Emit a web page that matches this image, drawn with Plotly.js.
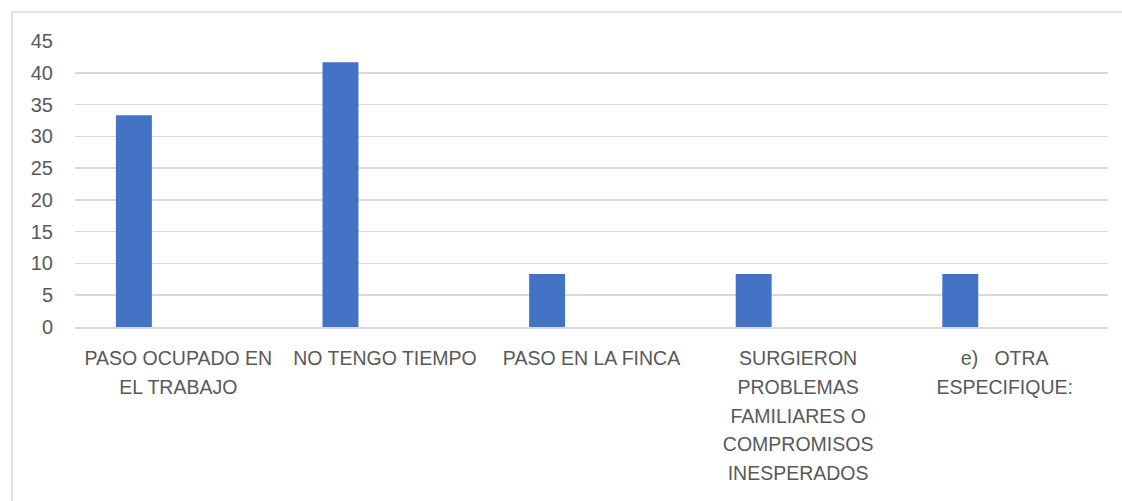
<!DOCTYPE html>
<html>
<head>
<meta charset="utf-8">
<script src="https://cdn.plot.ly/plotly-3.0.1.min.js"></script>
<style>
html,body{margin:0;padding:0;background:#fff;}
#chart{width:1122px;height:501px;}
</style>
</head>
<body>
<div id="chart"></div>
<script>
const categoryLines = [
  ["PASO OCUPADO EN", "EL TRABAJO"],
  ["NO TENGO TIEMPO"],
  ["PASO EN LA FINCA"],
  ["SURGIERON", "PROBLEMAS", "FAMILIARES O", "COMPROMISOS", "INESPERADOS"],
  ["e)\u00a0\u00a0\u00a0OTRA", "ESPECIFIQUE:"]
];
const values = [33.33, 41.67, 8.33, 8.33, 8.33];
const yTicks = [0, 5, 10, 15, 20, 25, 30, 35, 40, 45];

const categories = categoryLines.map(l => l.join(' '));
const tickText = categoryLines.map(l =>
  l.map(s => '<span style="font-size:19.5px">' + s + '</span>').join('<br>'));

const trace = {
  type: 'bar',
  x: categories,
  y: values,
  marker: {color: '#4472C4'},
  width: 0.174,
  offset: -0.302,
  hoverinfo: 'x+y'
};

const layout = {
  width: 1122,
  height: 501,
  margin: {l: 75, r: 14, t: 41, b: 174},
  paper_bgcolor: '#ffffff',
  plot_bgcolor: '#ffffff',
  showlegend: false,
  font: {family: 'Liberation Sans, Arial, sans-serif', color: '#595959'},
  xaxis: {
    type: 'category',
    tickvals: categories,
    ticktext: tickText,
    showgrid: false,
    showline: true,
    linecolor: '#d9d9d9',
    linewidth: 2,
    ticks: '',
    tickangle: 0,
    tickfont: {size: 22, color: '#595959'},
    ticklabelstandoff: 10,
    zeroline: false
  },
  yaxis: {
    range: [0, 45],
    tickvals: yTicks,
    ticktext: yTicks.map(String),
    showgrid: true,
    gridcolor: '#d9d9d9',
    gridwidth: 1.5,
    zeroline: false,
    showline: false,
    ticks: '',
    tickfont: {size: 20, color: '#595959'},
    ticklabelstandoff: 21
  },
  shapes: [{
    type: 'rect', xref: 'paper', yref: 'paper',
    x0: -0.061, x1: 1.03, y0: -0.7, y1: 1.101,
    line: {color: '#d9d9d9', width: 1.5},
    fillcolor: 'rgba(0,0,0,0)'
  }]
};

Plotly.newPlot('chart', [trace], layout, {displayModeBar: false, staticPlot: true});
</script>
</body>
</html>
